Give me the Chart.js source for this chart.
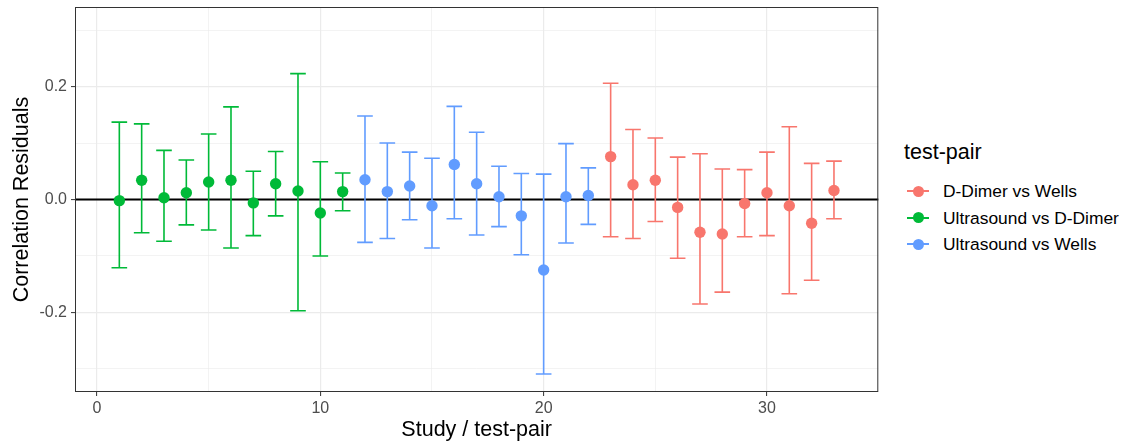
<!DOCTYPE html>
<html>
<head>
<meta charset="utf-8">
<script src="https://cdn.jsdelivr.net/npm/chart.js@4/dist/chart.umd.min.js"></script>
<style>
  body { margin: 0; background: #fff; font-family: "Liberation Sans", Arial, sans-serif; }
  #wrap { position: relative; width: 1126px; height: 444px; }
  #plot { position: absolute; left: 0; top: 0; width: 884px; height: 444px; }
  #legend { position: absolute; left: 904px; top: 138px; color: #000; }
  #legend .title { font-size: 21.5px; height: 28px; line-height: 28px; margin-bottom: 12px; }
  #legend .item { position: relative; height: 26.5px; line-height: 26.5px; font-size: 17.4px; padding-left: 39px; }
  #legend .key { position: absolute; left: 3px; top: 13px; width: 22px; height: 2px; margin-top: -1px; }
  #legend .dot { position: absolute; left: 8.5px; top: 13px; width: 11px; height: 11px; margin-top: -5.5px; border-radius: 50%; }
</style>
</head>
<body>
<div id="wrap">
  <div id="plot"><canvas id="chart"></canvas></div>
  <div id="legend"></div>
</div>
<script>
const pairNames = ["D-Dimer vs Wells", "Ultrasound vs D-Dimer", "Ultrasound vs Wells"];
const pairColors = ["#F8766D", "#00BA38", "#619CFF"];

const studies = [1, 2, 3, 4, 5, 6, 7, 8, 9, 10, 11,
                 12, 13, 14, 15, 16, 17, 18, 19, 20, 21, 22,
                 23, 24, 25, 26, 27, 28, 29, 30, 31, 32, 33];
const studyPair = [1, 1, 1, 1, 1, 1, 1, 1, 1, 1, 1,
                   2, 2, 2, 2, 2, 2, 2, 2, 2, 2, 2,
                   0, 0, 0, 0, 0, 0, 0, 0, 0, 0, 0];
const residuals = [-0.002, 0.034, 0.003, 0.012, 0.031, 0.034, -0.006, 0.028, 0.015, -0.024, 0.014,
                   0.035, 0.014, 0.024, -0.011, 0.062, 0.028, 0.005, -0.029, -0.125, 0.005, 0.007,
                   0.076, 0.026, 0.034, -0.014, -0.058, -0.061, -0.007, 0.012, -0.011, -0.042, 0.016];
const upper = [0.137, 0.134, 0.087, 0.070, 0.116, 0.164, 0.050, 0.085, 0.223, 0.067, 0.047,
               0.148, 0.100, 0.084, 0.073, 0.165, 0.119, 0.059, 0.046, 0.045, 0.099, 0.056,
               0.206, 0.124, 0.109, 0.075, 0.081, 0.054, 0.053, 0.084, 0.129, 0.064, 0.068];
const lower = [-0.121, -0.059, -0.074, -0.045, -0.054, -0.086, -0.064, -0.029, -0.197, -0.100, -0.020,
               -0.076, -0.069, -0.036, -0.086, -0.034, -0.063, -0.048, -0.098, -0.309, -0.077, -0.044,
               -0.066, -0.069, -0.039, -0.104, -0.185, -0.164, -0.066, -0.064, -0.167, -0.143, -0.034];

const xTicks = [0, 5, 10, 15, 20, 25, 30];
const yTicks = [-0.3, -0.2, -0.1, 0, 0.1, 0.2, 0.3];

const FONT = "'Liberation Sans', Arial, sans-serif";
const capHalf = 0.35;

// one dataset per test-pair, plotted in legend order
const datasets = pairNames.map((name, p) => {
    const pts = [];
    studies.forEach((s, i) => {
        if (studyPair[i] === p) pts.push({x: s, y: residuals[i], lo: lower[i], hi: upper[i]});
    });
    return {
        label: name,
        data: pts,
        backgroundColor: pairColors[p],
        borderColor: pairColors[p],
        pointRadius: 5.7,
        pointHoverRadius: 5.7,
        borderWidth: 0,
        showLine: false
    };
});

const panelPlugin = {
    id: "panel",
    beforeDatasetsDraw(chart) {
        const {ctx, chartArea, scales} = chart;
        const x = scales.x, y = scales.y;
        ctx.save();
        // zero reference line
        ctx.strokeStyle = "#000";
        ctx.lineWidth = 2;
        ctx.beginPath();
        ctx.moveTo(chartArea.left, y.getPixelForValue(0));
        ctx.lineTo(chartArea.right, y.getPixelForValue(0));
        ctx.stroke();
        // error bars
        ctx.lineWidth = 1.6;
        chart.data.datasets.forEach(ds => {
            ctx.strokeStyle = ds.borderColor;
            ds.data.forEach(d => {
                const px = x.getPixelForValue(d.x);
                const x0 = x.getPixelForValue(d.x - capHalf);
                const x1 = x.getPixelForValue(d.x + capHalf);
                const yl = y.getPixelForValue(d.lo);
                const yh = y.getPixelForValue(d.hi);
                ctx.beginPath();
                ctx.moveTo(px, yl); ctx.lineTo(px, yh);
                ctx.moveTo(x0, yl); ctx.lineTo(x1, yl);
                ctx.moveTo(x0, yh); ctx.lineTo(x1, yh);
                ctx.stroke();
            });
        });
        ctx.restore();
    },
    afterDatasetsDraw(chart) {
        const {ctx, chartArea} = chart;
        ctx.save();
        ctx.strokeStyle = "#333";
        ctx.lineWidth = 1;
        ctx.strokeRect(chartArea.left + 0.5, chartArea.top + 0.5,
                       chartArea.right - chartArea.left - 1, chartArea.bottom - chartArea.top - 1);
        ctx.restore();
    }
};

const isMajorX = v => v % 10 === 0;
const isMajorY = v => Math.abs(Math.round(v * 10)) % 2 === 0;
const noPad = s => { s.paddingTop = 0; s.paddingBottom = 0; s.paddingLeft = 0; s.paddingRight = 0; };

new Chart(document.getElementById("chart"), {
    type: "scatter",
    data: {datasets: datasets},
    plugins: [panelPlugin],
    options: {
        responsive: true,
        maintainAspectRatio: false,
        animation: false,
        layout: {padding: {top: 7, right: 3, left: 0, bottom: 0}},
        plugins: {legend: {display: false}, tooltip: {enabled: false}},
        scales: {
            x: {
                type: "linear",
                min: -0.985,
                max: 34.985,
                afterBuildTicks: s => { s.ticks = xTicks.map(v => ({value: v})); },
                afterFit: s => { s.height = 52; noPad(s); },
                border: {display: false},
                grid: {
                    color: c => "#ebebeb",
                    lineWidth: c => isMajorX(c.tick.value) ? 1.2 : 0.6,
                    tickLength: 4,
                    tickColor: c => isMajorX(c.tick.value) ? "#333" : "rgba(0,0,0,0)",
                    tickWidth: 1
                },
                ticks: {
                    color: "#4d4d4d",
                    font: {family: FONT, size: 16},
                    padding: 3,
                    maxRotation: 0,
                    autoSkip: false,
                    callback: v => isMajorX(v) ? String(v) : ""
                },
                title: {
                    display: true,
                    text: "Study / test-pair",
                    color: "#000",
                    font: {family: FONT, size: 21.5},
                    padding: {top: 0, bottom: 1}
                }
            },
            y: {
                min: -0.341,
                max: 0.341,
                afterBuildTicks: s => { s.ticks = yTicks.map(v => ({value: v})); },
                afterFit: s => { s.width = 75; noPad(s); },
                border: {display: false},
                grid: {
                    color: c => "#ebebeb",
                    lineWidth: c => isMajorY(c.tick.value) ? 1.2 : 0.6,
                    tickLength: 4,
                    tickColor: c => isMajorY(c.tick.value) ? "#333" : "rgba(0,0,0,0)",
                    tickWidth: 1
                },
                ticks: {
                    color: "#4d4d4d",
                    font: {family: FONT, size: 16},
                    padding: 4,
                    autoSkip: false,
                    callback: v => isMajorY(v) ? v.toFixed(1) : ""
                },
                title: {
                    display: true,
                    text: "Correlation Residuals",
                    color: "#000",
                    font: {family: FONT, size: 21.5},
                    padding: {top: 9, bottom: 0}
                }
            }
        }
    }
});

// legend (HTML, same order and colours as the datasets)
const legend = document.getElementById("legend");
legend.innerHTML = '<div class="title">test-pair</div>' + pairNames.map((n, i) =>
    '<div class="item"><span class="key" style="background:' + pairColors[i] + '"></span>' +
    '<span class="dot" style="background:' + pairColors[i] + '"></span>' + n + '</div>').join("");
</script>
</body>
</html>
